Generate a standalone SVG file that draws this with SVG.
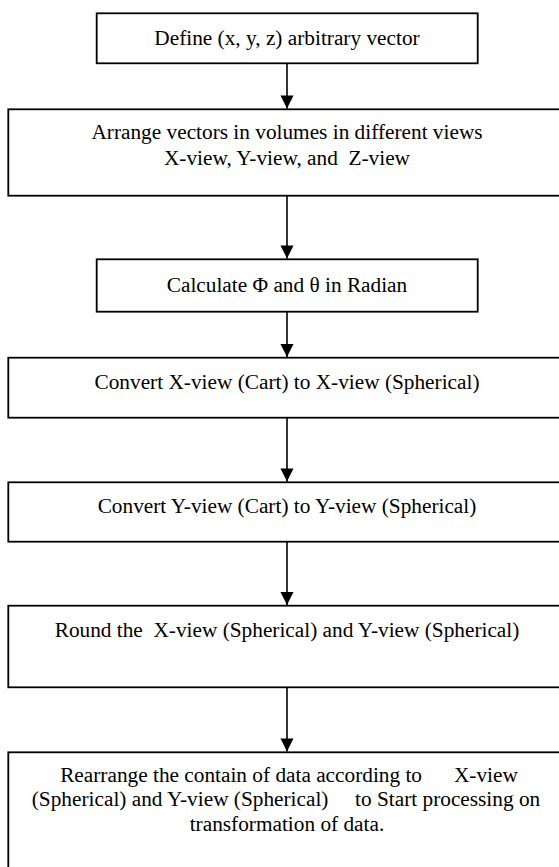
<svg xmlns="http://www.w3.org/2000/svg" width="559" height="867" viewBox="0 0 559 867">
<style>
  .box { fill: #ffffff; stroke: #000000; stroke-width: 1.8; }
  .lbl { font-family: "Liberation Serif", "Times New Roman", serif; font-size: 21.3px; fill: #000000; text-anchor: middle; white-space: pre; }
  .conn { stroke: #000000; stroke-width: 1.6; fill: none; }
</style>
<defs>
  <marker id="arrow" viewBox="0 0 14 15" refX="14" refY="7" markerWidth="15" markerHeight="14" markerUnits="userSpaceOnUse" orient="auto">
    <path d="M0,0 L14,7 L0,14 z" fill="#000000"/>
  </marker>
</defs>
<rect x="0" y="0" width="559" height="867" fill="#ffffff"/>
<g id="connectors">
  <line class="conn" x1="287" y1="63.3" x2="287" y2="108.5" marker-end="url(#arrow)"/>
  <line class="conn" x1="287" y1="195.7" x2="287" y2="258.5" marker-end="url(#arrow)"/>
  <line class="conn" x1="287" y1="311.7" x2="287" y2="357" marker-end="url(#arrow)"/>
  <line class="conn" x1="287" y1="417.7" x2="287" y2="481.5" marker-end="url(#arrow)"/>
  <line class="conn" x1="287" y1="541.7" x2="287" y2="605" marker-end="url(#arrow)"/>
  <line class="conn" x1="287" y1="687.3" x2="287" y2="751.5" marker-end="url(#arrow)"/>
</g>
<g id="node1">
  <rect class="box" x="96.7" y="13.3" width="381" height="50"/>
  <text class="lbl" x="287" y="45">Define (x, y, z) arbitrary vector</text>
</g>
<g id="node2">
  <rect class="box" x="8.3" y="109.3" width="560" height="86.4"/>
  <text class="lbl" x="287" y="139" xml:space="preserve">Arrange vectors in volumes in different views</text>
  <text class="lbl" x="287" y="164.5" xml:space="preserve">X-view, Y-view, and  Z-view</text>
</g>
<g id="node3">
  <rect class="box" x="96.7" y="259.3" width="381" height="52.4"/>
  <text class="lbl" x="287" y="292.3">Calculate Φ and θ in Radian</text>
</g>
<g id="node4">
  <rect class="box" x="8.3" y="357.7" width="560" height="60"/>
  <text class="lbl" x="287" y="389">Convert X-view (Cart) to X-view (Spherical)</text>
</g>
<g id="node5">
  <rect class="box" x="8.3" y="482.3" width="560" height="59.4"/>
  <text class="lbl" x="287" y="513.3">Convert Y-view (Cart) to Y-view (Spherical)</text>
</g>
<g id="node6">
  <rect class="box" x="8.3" y="605.7" width="560" height="81.6"/>
  <text class="lbl" x="287" y="636.7" xml:space="preserve">Round the  X-view (Spherical) and Y-view (Spherical)</text>
</g>
<g id="node7">
  <rect class="box" x="8.3" y="752.3" width="560" height="130"/>
  <text class="lbl" x="289" y="781.7" xml:space="preserve">Rearrange the contain of data according to      X-view</text>
  <text class="lbl" x="286" y="806.2" xml:space="preserve">(Spherical) and Y-view (Spherical)     to Start processing on</text>
  <text class="lbl" x="287" y="830.7">transformation of data.</text>
</g>
</svg>
